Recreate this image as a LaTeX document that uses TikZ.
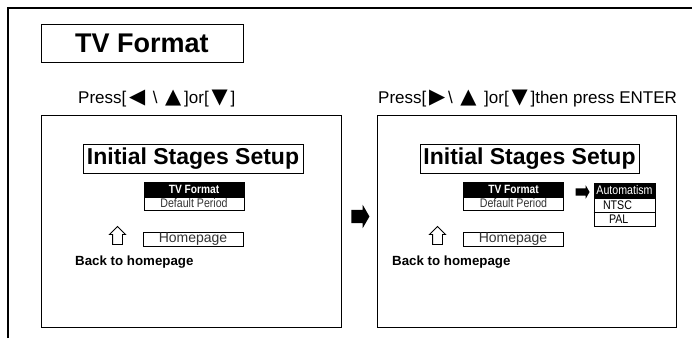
\documentclass[tikz,border=0pt]{standalone}
\usepackage{fontspec}
\setmainfont{Liberation Sans}
\newfontfamily\narrowfont[FakeStretch=0.85]{Liberation Sans}
\newfontfamily\trifont{DejaVu Sans}
\usetikzlibrary{shapes.arrows}
\newcommand{\tri}[1]{\,{\trifont\fontsize{21}{21}\selectfont #1}\,}
\newcommand{\fsz}[1]{\fontsize{#1}{#1}\selectfont}
\tikzset{
  box/.style={draw, line width=1pt, inner sep=0pt},
  panel/.style={box, minimum width=300pt, minimum height=212pt},
  setupbox/.style={box, minimum width=220pt, minimum height=29pt, font=\fsz{23}\bfseries},
  menuhead/.style={box, fill=black, text=white, minimum width=100pt, minimum height=15pt, font=\narrowfont\fsz{12}\bfseries},
  menurow/.style={box, text=black!80, minimum width=100pt, minimum height=13pt, font=\narrowfont\fsz{12.5}},
  optrow/.style={box, minimum width=61pt, minimum height=14pt, text width=43pt, align=left, font=\narrowfont\fsz{12.5}},
  homebox/.style={box, text=black!80, minimum width=100pt, minimum height=14pt, font=\fsz{14}},
  backtext/.style={anchor=base west, inner sep=0pt, font=\fsz{13.3}\bfseries},
  presstext/.style={anchor=base west, inner sep=0pt, font=\fsz{17}},
  uparrow/.style={single arrow, draw, line width=0.9pt, inner sep=4.5pt, shape border rotate=90,
    minimum height=18pt, single arrow head extend=3pt},
  blackarrow/.style={single arrow, fill=black, single arrow tip angle=120}
}
\begin{document}
\begin{tikzpicture}[x=1pt,y=-1pt]
\useasboundingbox (0,0) rectangle (692,338);
\draw[line width=1.6pt] (8,338) -- (8,8) -- (692,8);
\node[box, minimum width=202pt, minimum height=38pt, font=\fsz{27}\bfseries] (title) at (142,43) {TV Format};
\node[presstext] (pressl) at (78,103) {Press[\tri{◀}\ \textbackslash\ \tri{▲}]or[\tri{▼}]};
\node[presstext] (pressr) at (378,103) {Press[\tri{▶}\textbackslash\ \tri{▲}\ ]or[\tri{▼}]then press ENTER};
% left screen
\node[panel] (scrl) at (191,221) {};
\node[setupbox] (setupl) at (193,158.5) {Initial Stages Setup};
\node[menuhead] (fmtl) at (194,189.5) {TV Format};
\node[menurow] (perl) at (194,203.5) {Default Period};
\node[uparrow] (upl) at (117.5,238) {};
\node[homebox] (homel) at (193,239) {Homepage};
\node[backtext] (backl) at (75,265) {Back to homepage};
% middle arrow
\node[blackarrow, inner sep=6.5pt, minimum height=18pt, single arrow head extend=5pt] (next) at (358.5,216.5) {};
% right screen
\node[panel, minimum width=299pt] (scrr) at (526.5,221) {};
\node[setupbox, minimum width=219pt] (setupr) at (529.5,158.5) {Initial Stages Setup};
\node[menuhead] (fmtr) at (513.5,189.5) {TV Format};
\node[menurow] (perr) at (513.5,203.5) {Default Period};
\node[blackarrow, inner sep=3.5pt, minimum height=14pt, single arrow head extend=3pt] (pick) at (581.5,192) {};
\node[menuhead, minimum width=61pt, font=\narrowfont\fsz{12.5}] (auto) at (624.5,190.5) {Automatism};
\node[optrow] (ntsc) at (624.5,205) {NTSC};
\node[optrow] (pal) at (624.5,219) {\hspace*{6pt}PAL};
\draw[line width=1.6pt] (ntsc.south west) -- (ntsc.south east);
\node[uparrow] (upr) at (437.5,238) {};
\node[homebox] (homer) at (513,239) {Homepage};
\node[backtext] (backr) at (392,265) {Back to homepage};
\end{tikzpicture}
\end{document}
